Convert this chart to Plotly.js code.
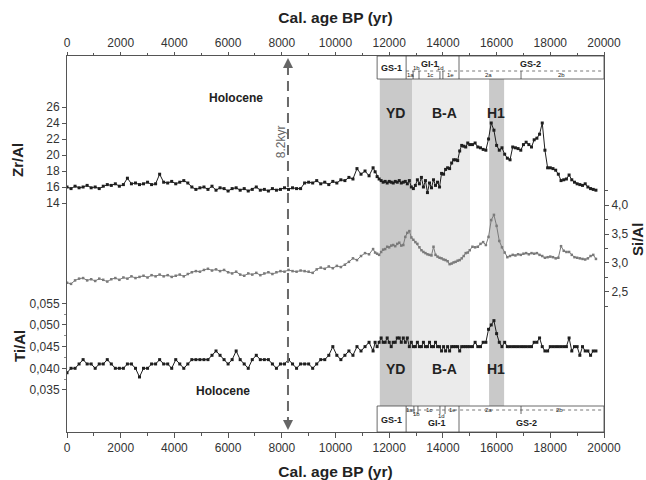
<!DOCTYPE html>
<html>
<head>
<meta charset="utf-8">
<script src="https://cdn.plot.ly/plotly-3.0.1.min.js"></script>
<style>html,body{margin:0;padding:0;background:#fff;}#chart{width:646px;height:480px;}</style>
</head>
<body>
<div id="chart"></div>
<script>
// ---- data (cal. age BP, yr) ----
const ages = [
  0,150,300,450,600,750,900,1050,1200,1350,
  1500,1650,1800,1950,2100,2250,2400,2550,2700,2850,
  3000,3150,3300,3450,3600,3750,3900,4050,4200,4350,
  4500,4650,4800,4950,5100,5250,5400,5550,5700,5850,
  6000,6150,6300,6450,6600,6750,6900,7050,7200,7350,
  7500,7650,7800,7950,8100,8250,8400,8550,8700,8850,
  9000,9150,9300,9450,9600,9750,9900,10050,10200,10350,
  10500,10650,10800,10950,11100,11250,11400,
  11475,11550,11625,11700,11775,11850,11925,12000,12075,12150,
  12225,12300,12375,12450,12525,12600,12675,12750,12825,12900,
  12975,13050,13125,13200,13275,13350,13425,13500,13575,13650,
  13725,13800,13875,13950,14025,14100,14175,14250,14325,14400,
  14475,14550,14625,14700,14775,14850,14925,15000,
  15100,15200,15300,15400,15500,15600,15700,15800,15900,16000,
  16100,16200,16300,16400,16500,16600,16700,16800,16900,17000,
  17100,17200,17300,17400,17500,17600,17700,17800,17900,18000,
  18100,18200,18300,18400,18500,18600,18700,18800,18900,19000,
  19100,19200,19300,19400,19500,19600,19700
];
const zrAl = [
  16.0,15.8,16.1,15.9,16.0,16.2,15.9,16.0,15.8,16.1,
  16.3,16.2,16.4,16.1,16.3,17.1,16.4,16.5,16.3,16.4,
  16.6,16.3,16.4,17.6,16.6,16.5,16.7,16.4,16.6,16.8,
  16.5,16.0,15.7,15.9,16.0,15.7,16.1,15.6,15.9,15.8,
  15.5,15.8,15.9,15.6,15.8,15.5,15.7,16.0,15.6,15.7,
  15.5,15.8,15.6,15.7,15.9,15.7,15.9,15.8,15.8,16.5,
  16.6,16.5,16.8,16.4,16.6,16.3,16.7,16.5,16.9,16.8,
  17.2,17.0,18.3,17.6,18.0,17.4,18.4,
  17.9,17.3,17.0,16.8,16.6,16.7,16.5,16.7,16.6,16.5,
  16.7,16.6,16.8,16.5,16.6,16.7,16.4,16.8,16.0,15.8,
  16.2,16.9,16.4,17.2,16.0,16.8,15.3,16.5,15.9,16.9,
  16.2,16.6,16.0,17.7,17.6,18.2,18.4,18.3,19.0,19.4,
  19.4,19.3,20.5,21.2,21.1,21.0,21.5,21.3,
  21.3,21.5,21.0,20.9,20.7,20.6,22.0,24.0,23.1,21.2,
  20.6,20.9,20.1,19.6,19.4,21.0,20.9,20.8,20.6,21.3,
  21.6,21.3,21.0,21.9,22.1,22.6,24.0,20.6,18.4,18.4,
  18.3,18.1,17.6,16.8,16.9,17.0,17.5,16.9,16.6,16.4,
  16.3,16.2,16.4,16.0,15.8,15.7,15.6
];
const siAl = [
  2.66,2.64,2.70,2.73,2.74,2.70,2.72,2.69,2.73,2.71,
  2.68,2.72,2.74,2.71,2.75,2.73,2.77,2.74,2.76,2.78,
  2.75,2.79,2.77,2.80,2.77,2.79,2.76,2.78,2.80,2.77,
  2.81,2.84,2.86,2.85,2.88,2.90,2.87,2.89,2.86,2.88,
  2.84,2.82,2.85,2.80,2.78,2.82,2.80,2.83,2.79,2.82,
  2.84,2.81,2.84,2.86,2.85,2.88,2.86,2.85,2.87,2.86,
  2.85,2.83,2.89,2.92,2.90,2.94,2.91,2.95,2.93,2.97,
  3.02,3.08,3.05,3.12,3.17,3.15,3.24,
  3.18,3.16,3.14,3.19,3.23,3.24,3.28,3.27,3.30,3.31,
  3.29,3.33,3.35,3.30,3.31,3.45,3.52,3.55,3.44,3.40,
  3.36,3.33,3.27,3.22,3.19,3.17,3.15,3.14,3.13,3.28,
  3.14,3.11,3.09,3.08,3.06,3.05,3.03,2.98,2.99,3.01,
  3.02,3.04,3.05,3.08,3.12,3.17,3.18,3.22,
  3.28,3.27,3.28,3.33,3.36,3.31,3.45,3.74,3.83,3.64,
  3.38,3.27,3.18,3.10,3.12,3.14,3.13,3.15,3.14,3.16,
  3.17,3.15,3.17,3.16,3.17,3.14,3.12,3.09,3.10,3.11,
  3.10,3.08,3.09,3.29,3.21,3.19,3.19,3.14,3.10,3.09,
  3.08,3.07,3.06,3.08,3.12,3.14,3.07
];
const tiAl = [
  0.039,0.040,0.040,0.041,0.042,0.041,0.041,0.040,0.041,0.041,
  0.042,0.041,0.040,0.040,0.040,0.041,0.041,0.040,0.038,0.040,
  0.040,0.041,0.041,0.042,0.041,0.041,0.040,0.042,0.041,0.040,
  0.041,0.042,0.042,0.042,0.042,0.042,0.043,0.044,0.043,0.042,
  0.041,0.042,0.044,0.042,0.041,0.040,0.042,0.043,0.042,0.042,
  0.042,0.041,0.040,0.041,0.041,0.042,0.041,0.040,0.041,0.041,
  0.041,0.040,0.041,0.042,0.042,0.043,0.045,0.043,0.042,0.043,
  0.044,0.043,0.045,0.044,0.045,0.046,0.044,
  0.046,0.045,0.046,0.047,0.046,0.046,0.047,0.046,0.045,0.046,
  0.046,0.047,0.047,0.046,0.047,0.046,0.047,0.045,0.046,0.045,
  0.045,0.046,0.045,0.045,0.046,0.045,0.045,0.046,0.045,0.045,
  0.046,0.045,0.045,0.044,0.045,0.044,0.045,0.044,0.045,0.045,
  0.045,0.045,0.044,0.045,0.045,0.045,0.045,0.045,
  0.045,0.046,0.045,0.045,0.046,0.046,0.049,0.050,0.051,0.048,
  0.046,0.045,0.046,0.045,0.045,0.045,0.045,0.045,0.045,0.045,
  0.045,0.045,0.045,0.046,0.046,0.047,0.045,0.044,0.044,0.045,
  0.045,0.045,0.045,0.045,0.045,0.045,0.047,0.044,0.045,0.045,
  0.043,0.045,0.044,0.044,0.043,0.044,0.044
];

// axis ticks
const xTickVals = [0,2000,4000,6000,8000,10000,12000,14000,16000,18000,20000];
const xTickText = ['0','2000','4000','6000','8000','10000','12000','14000','16000','18000','20000'];
const zrTickVals = [14,16,18,20,22,24,26];
const siTickVals = [2.5,3.0,3.5,4.0];
const siTickText = ['2,5','3,0','3,5','4,0'];
const tiTickVals = [0.035,0.040,0.045,0.050,0.055];
const tiTickText = ['0,035','0,040','0,045','0,050','0,055'];

// climatic periods (yr BP)
const periodNames = ['YD','B-A','H1'];
const periodStart = [11650, 12850, 15720];
const periodEnd   = [12850, 15010, 16280];
const event82 = 8230;

// Greenland stratigraphy boundaries (yr BP)
const gsBounds = [11550, 12630, 14600, 20000];
const gsNames = ['GS-1','GI-1','GS-2'];
const subBoundsTop = [12890, 13110, 13890, 14000, 16910];
const subBoundsBot = [12920, 13070, 13890, 14080, 16910];

// ---- drawing ----
const H = 376, TOP = 56, BOT = 432;
const py = y => (BOT - y) / H;   // pixel row -> paper fraction
const FAM = 'Liberation Sans, Arial, sans-serif';
const tickFont = {family:FAM, size:12, color:'#333'};

const traces = [
  {x:ages, y:zrAl, yaxis:'y', type:'scatter', mode:'lines+markers',
   line:{color:'#1e1e1e', width:1}, marker:{symbol:'square', size:3, color:'#1e1e1e'}},
  {x:ages, y:siAl, yaxis:'y2', type:'scatter', mode:'lines+markers',
   line:{color:'#7a7a7a', width:1}, marker:{symbol:'square', size:2.5, color:'#7a7a7a'}},
  {x:ages, y:tiAl, yaxis:'y3', type:'scatter', mode:'lines+markers',
   line:{color:'#1e1e1e', width:1}, marker:{symbol:'square', size:3, color:'#1e1e1e'}}
];

const shapes = [];
const bandColors = ['#c9c9c9','#ebebeb','#c9c9c9'];
for (let i=0;i<periodNames.length;i++){
  shapes.push({type:'rect', xref:'x', yref:'paper', x0:periodStart[i], x1:periodEnd[i],
    y0:py(406), y1:py(79), fillcolor:bandColors[i], line:{width:0}, layer:'below'});
}
// stratigraphy boxes
const boxLine = {color:'#444', width:0.8};
[[56,79],[406,432]].forEach(b=>{
  shapes.push({type:'rect', xref:'x', yref:'paper', x0:gsBounds[0], x1:gsBounds[3],
    y0:py(b[1]), y1:py(b[0]), line:boxLine, fillcolor:'rgba(255,255,255,0)'});
  shapes.push({type:'line', xref:'x', yref:'paper', x0:gsBounds[1], x1:gsBounds[1], y0:py(b[1]), y1:py(b[0]), line:boxLine});
  shapes.push({type:'line', xref:'x', yref:'paper', x0:gsBounds[2], x1:gsBounds[2], y0:py(b[1]), y1:py(b[0]), line:boxLine});
});
shapes.push({type:'line', xref:'x', yref:'paper', x0:gsBounds[1], x1:gsBounds[3], y0:py(71), y1:py(71), line:{color:'#555', width:0.8, dash:'dot'}});
shapes.push({type:'line', xref:'x', yref:'paper', x0:gsBounds[1], x1:gsBounds[3], y0:py(410), y1:py(410), line:{color:'#555', width:0.8, dash:'dot'}});
subBoundsTop.forEach(v=>shapes.push({type:'line', xref:'x', yref:'paper', x0:v, x1:v, y0:py(79), y1:py(71), line:boxLine}));
subBoundsBot.forEach(v=>shapes.push({type:'line', xref:'x', yref:'paper', x0:v, x1:v, y0:py(406), y1:py(414), line:boxLine}));
// 8.2 kyr dashed line
shapes.push({type:'line', xref:'x', yref:'paper', x0:event82, x1:event82, y0:py(427), y1:py(62),
  line:{color:'#6a6a6a', width:2, dash:'10px,6px'}});

const bold = (t)=>'<b>'+t+'</b>';
const ann = [];
const A = (x,y,text,size,opts)=>ann.push(Object.assign({x:x, y:y, xref:'x', yref:'paper', text:text, showarrow:false,
  font:{family:FAM, size:size, color:'#222'}, xanchor:'center', yanchor:'middle'}, opts||{}));

// axis titles
ann.push({xref:'paper', yref:'paper', x:(17-67)/537, y:py(160), text:bold('Zr/Al'), textangle:-90, showarrow:false,
  font:{family:FAM, size:15, color:'#222'}, xanchor:'center', yanchor:'middle'});
ann.push({xref:'paper', yref:'paper', x:(19-67)/537, y:py(346), text:bold('Ti/Al'), textangle:-90, showarrow:false,
  font:{family:FAM, size:15, color:'#222'}, xanchor:'center', yanchor:'middle'});
ann.push({xref:'paper', yref:'paper', x:(637-67)/537, y:py(240), text:bold('Si/Al'), textangle:-90, showarrow:false,
  font:{family:FAM, size:15, color:'#222'}, xanchor:'center', yanchor:'middle'});

// period labels
A(6300, py(98), bold('Holocene'), 12);
A(5800, py(391), bold('Holocene'), 12);
const pLabX = [12230, 14050, 15980];
periodNames.forEach((n,i)=>{ A(pLabX[i], py(113), bold(n), 14); A(pLabX[i], py(369), bold(n), 14); });
A(7980, py(142), '8.2kyr', 12, {textangle:-90, font:{family:FAM, size:12, color:'#666'}});

// stratigraphy labels
A(12104, py(68), bold('GS-1'), 9); A(13520, py(64), bold('GI-1'), 9); A(17244, py(64), bold('GS-2'), 9);
A(12104, py(420), bold('GS-1'), 9); A(13780, py(423), bold('GI-1'), 9); A(17132, py(423), bold('GS-2'), 9);
const subF = 6;
A(12775, py(75), '1a', subF); A(13035, py(68), '1b', subF); A(13520, py(75), '1c', subF);
A(13929, py(68), '1d', subF); A(14290, py(75), '1e', subF); A(15680, py(75), '2a', subF); A(18399, py(75), '2b', subF);
A(12760, py(409.5), '1a', subF); A(13000, py(414), '1b', subF); A(13482, py(409.5), '1c', subF);
A(13960, py(416), '1d', subF); A(14340, py(409.5), '1e', subF); A(15680, py(409.5), '2a', subF); A(18361, py(409.5), '2b', subF);

// arrow heads of 8.2 kyr line
ann.push({x:event82, y:py(58), xref:'x', yref:'paper', ax:0, ay:12, text:'', showarrow:true, arrowhead:2, arrowsize:1, arrowwidth:2, arrowcolor:'#666'});
ann.push({x:event82, y:py(430), xref:'x', yref:'paper', ax:0, ay:-12, text:'', showarrow:true, arrowhead:2, arrowsize:1, arrowwidth:2, arrowcolor:'#666'});

const xCommon = {range:[0,20000], tickmode:'array', tickvals:xTickVals, ticktext:xTickText,
  ticks:'outside', ticklen:5, tickcolor:'#555', tickwidth:1,
  minor:{tick0:0, dtick:1000, ticks:'outside', ticklen:3, tickcolor:'#555'},
  showline:true, linecolor:'#555', linewidth:1, showgrid:false, zeroline:false, tickfont:tickFont,
  fixedrange:true};

const layout = {
  width:646, height:480, margin:{l:67, r:42, t:56, b:48},
  paper_bgcolor:'#fff', plot_bgcolor:'#fff', showlegend:false,
  font:{family:FAM, color:'#333', size:12},
  xaxis: Object.assign({}, xCommon, {title:{text:bold('Cal. age BP (yr)'), font:{size:15.5, color:'#222'}, standoff:12}}),
  xaxis2: Object.assign({}, xCommon, {overlaying:'x', side:'top', anchor:'y', ticklen:3,
    minor:{tick0:0, dtick:1000, ticks:'outside', ticklen:2, tickcolor:'#555'},
    title:{text:bold('Cal. age BP (yr)'), font:{size:15.5, color:'#222'}, standoff:8}}),
  yaxis: {range:[-14.625, 32.375], tickmode:'array', tickvals:zrTickVals, ticks:'outside', ticklen:4,
    tickcolor:'#555', showline:true, linecolor:'#555', linewidth:1, showgrid:false, zeroline:false,
    tickfont:tickFont, fixedrange:true},
  yaxis2: {range:[0.086, 6.569], overlaying:'y', side:'right', tickmode:'array', tickvals:siTickVals, ticktext:siTickText,
    ticks:'outside', ticklen:4, tickcolor:'#555', showline:true, linecolor:'#555', linewidth:1,
    minor:{tickmode:'array', tickvals:[2.25,2.75,3.25,3.75,4.25], ticks:'outside', ticklen:3, tickcolor:'#555'},
    showgrid:false, zeroline:false, tickfont:tickFont, fixedrange:true},
  yaxis3: {range:[0.0253, 0.11207], overlaying:'y', side:'left', tickmode:'array', tickvals:tiTickVals, ticktext:tiTickText,
    ticks:'outside', ticklen:4, tickcolor:'#555', showline:false,
    minor:{tickmode:'array', tickvals:[0.0375,0.0425,0.0475,0.0525], ticks:'outside', ticklen:2, tickcolor:'#888'},
    showgrid:false, zeroline:false, tickfont:tickFont, fixedrange:true},
  shapes:shapes, annotations:ann
};

// invisible trace on xaxis2 so the top axis is drawn
traces.push({x:[0,20000], y:[0,0], xaxis:'x2', yaxis:'y', mode:'markers', marker:{opacity:0}, hoverinfo:'skip'});

Plotly.newPlot('chart', traces, layout, {displayModeBar:false, staticPlot:true});
</script>
</body>
</html>
